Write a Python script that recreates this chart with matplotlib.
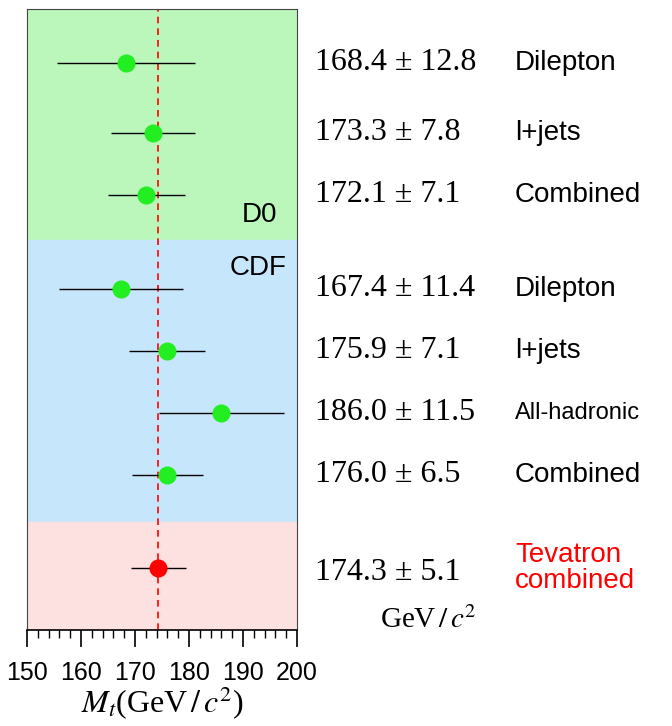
import matplotlib
matplotlib.use("Agg")
import matplotlib.pyplot as plt
plt.rcParams["mathtext.fontset"] = "stix"

values = [168.4, 173.3, 172.1, 167.4, 175.9, 186.0, 176.0, 174.3]
errors = [12.8, 7.8, 7.1, 11.4, 7.1, 11.5, 6.5, 5.1]
labels = ["Dilepton", "l+jets", "Combined", "Dilepton", "l+jets", "All-hadronic", "Combined", "Tevatron\ncombined"]
colors = ["#22ee22"] * 7 + ["red"]
ypos = [63, 133, 195, 289, 351, 413, 475, 568]  # pixel rows

fig = plt.figure(figsize=(6.72, 7.26), dpi=100)
ax = fig.add_axes([27/672, 96/726, 270/672, 621/726])
ax.set_xlim(150, 200)
ax.set_ylim(630, 9)
ax.axhspan(9, 240, color="#bbf7bb", zorder=0)
ax.axhspan(240, 522, color="#c6e6fb", zorder=0)
ax.axhspan(522, 630, color="#fde0e0", zorder=0)
ax.axvline(174.3, color="red", ls=(0, (4, 3)), lw=1.2, zorder=1)
for v, e, y, c in zip(values, errors, ypos, colors):
    ax.errorbar(v, y, xerr=e, fmt="o", color="black", ecolor="black", elinewidth=1,
                capsize=0, markersize=12, markerfacecolor=c, markeredgecolor=c, zorder=3)
ax.set_yticks([])
ax.set_xticks([150, 160, 170, 180, 190, 200])
ax.set_xticks(range(150, 201, 2), minor=True)
ax.tick_params(axis="x", which="major", direction="out", length=12, width=1.2, labelsize=18, pad=10)
ax.tick_params(axis="x", which="minor", direction="out", length=6, width=1)
for lab in ax.get_xticklabels():
    lab.set_fontfamily("Liberation Sans")
    lab.set_fontstretch("condensed")
for s in ["top", "left", "right"]:
    ax.spines[s].set_color("#444444")
    ax.spines[s].set_linewidth(0.8)
ax.spines["bottom"].set_linewidth(1.2)
tr = ax.get_yaxis_transform()
ax.text(0.925, 215, "D0", ha="right", va="center", fontsize=20, transform=tr, family="Liberation Sans")
ax.text(0.96, 268, "CDF", ha="right", va="center", fontsize=20, transform=tr, family="Liberation Sans")
ax.set_xlabel(r"$M_t$(GeV$\,/\,c^2$)", fontsize=23, family="Liberation Serif", labelpad=0)

for i, (v, e, y, lab) in enumerate(zip(values, errors, ypos, labels)):
    ty = y if i < 7 else 572
    ax.text(1.067, ty, f"{v:.1f} \u00b1 {e:.1f}", transform=tr,
            ha="left", va="center", fontsize=23, family="Liberation Serif")
    if i == 7:
        ax.text(1.807, 568, lab, transform=tr, ha="left", va="center",
                fontsize=20, color="red", family="Liberation Sans", linespacing=1.05)
    elif lab == "All-hadronic":
        ax.text(1.807, ty, lab, transform=tr, ha="left", va="center",
                fontsize=17, family="Liberation Sans", fontstretch="condensed")
    else:
        ax.text(1.807, ty, lab, transform=tr, ha="left", va="center",
                fontsize=20, family="Liberation Sans")
ax.text(1.307, 620, r"GeV$\,/\,c^2$", transform=tr, ha="left", va="center",
        fontsize=21, family="Liberation Serif")
fig.savefig("out.png", dpi=100)
